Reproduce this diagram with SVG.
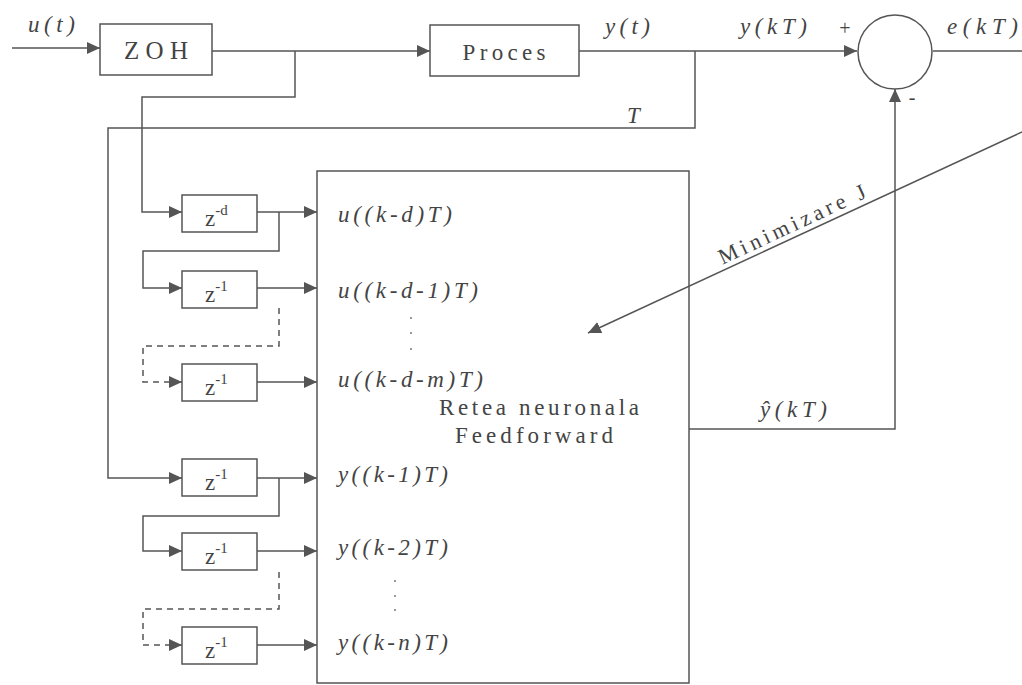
<svg xmlns="http://www.w3.org/2000/svg" width="1022" height="685" viewBox="0 0 1022 685" font-family="'Liberation Serif', 'Times New Roman', serif">
<style>
.box{fill:#fff;stroke:#555;stroke-width:1.5}
.ln{fill:none;stroke:#555;stroke-width:1.5}
.dash{fill:none;stroke:#555;stroke-width:1.5;stroke-dasharray:6 5}
.t{font-family:'Liberation Serif','Times New Roman',serif;fill:#444}
.i{font-family:'Liberation Serif','Times New Roman',serif;font-style:italic;fill:#444}
</style>
<defs>
<marker id="ar" markerUnits="userSpaceOnUse" markerWidth="14" markerHeight="12" refX="13" refY="6" orient="auto">
<path d="M0,0 L13,6 L0,12 Z" fill="#555"/>
</marker>
</defs>
<rect width="1022" height="685" fill="#fff"/>

<g id="zoh">
<rect class="box" x="100" y="24" width="112" height="51"/>
<text class="t" x="156" y="59" font-size="25" text-anchor="middle" textLength="64" lengthAdjust="spacing">ZOH</text>
</g>
<g id="proces">
<rect class="box" x="430" y="25" width="149" height="51"/>
<text class="t" x="504" y="60" font-size="23" text-anchor="middle" textLength="83" lengthAdjust="spacing">Proces</text>
</g>
<g id="sum">
<circle class="box" cx="895" cy="52" r="37"/>
<text class="t" x="845" y="35" font-size="20" text-anchor="middle">+</text>
<text class="t" x="912" y="104" font-size="20" text-anchor="middle">-</text>
</g>
<g id="nn">
<rect class="box" x="317" y="171" width="372" height="512"/>
<text class="t" x="539" y="415" font-size="23" text-anchor="middle" textLength="200" lengthAdjust="spacing">Retea neuronala</text>
<text class="t" x="534" y="443" font-size="23" text-anchor="middle" textLength="158" lengthAdjust="spacing">Feedforward</text>
</g>
<g id="zd">
<rect class="box" x="182" y="195" width="75" height="37"/>
<text class="t" x="205" y="226" font-size="23">z<tspan font-size="15" dy="-11">-d</tspan></text>
</g>
<g id="z1">
<rect class="box" x="182" y="271" width="75" height="37"/>
<text class="t" x="205" y="302" font-size="23">z<tspan font-size="15" dy="-11">-1</tspan></text>
</g>
<g id="z2">
<rect class="box" x="182" y="364" width="75" height="37"/>
<text class="t" x="205" y="395" font-size="23">z<tspan font-size="15" dy="-11">-1</tspan></text>
</g>
<g id="z3">
<rect class="box" x="182" y="459" width="75" height="37"/>
<text class="t" x="205" y="490" font-size="23">z<tspan font-size="15" dy="-11">-1</tspan></text>
</g>
<g id="z4">
<rect class="box" x="182" y="533" width="75" height="37"/>
<text class="t" x="205" y="564" font-size="23">z<tspan font-size="15" dy="-11">-1</tspan></text>
</g>
<g id="z5">
<rect class="box" x="182" y="627" width="75" height="37"/>
<text class="t" x="205" y="658" font-size="23">z<tspan font-size="15" dy="-11">-1</tspan></text>
</g>

<g id="connectors">
<line class="ln" x1="12" y1="48" x2="100" y2="48" marker-end="url(#ar)"/>
<line class="ln" x1="212" y1="51" x2="430" y2="51" marker-end="url(#ar)"/>
<polyline class="ln" points="295,51 295,97 142,97 142,212 182,212" marker-end="url(#ar)"/>
<line class="ln" x1="579" y1="51" x2="857" y2="51" marker-end="url(#ar)"/>
<line class="ln" x1="933" y1="51" x2="1022" y2="51"/>
<polyline class="ln" points="695,51 695,128 108,128 108,478 182,478" marker-end="url(#ar)"/>
<line class="ln" x1="257" y1="212" x2="317" y2="212" marker-end="url(#ar)"/>
<polyline class="ln" points="279,212 279,251 143,251 143,288 182,288" marker-end="url(#ar)"/>
<line class="ln" x1="257" y1="288" x2="317" y2="288" marker-end="url(#ar)"/>
<polyline class="dash" points="279,308 279,346 143,346 143,382 172,382"/>
<line class="ln" x1="172" y1="382" x2="182" y2="382" marker-end="url(#ar)"/>
<line class="ln" x1="257" y1="382" x2="317" y2="382" marker-end="url(#ar)"/>
<line class="ln" x1="257" y1="478" x2="317" y2="478" marker-end="url(#ar)"/>
<polyline class="ln" points="279,478 279,516 143,516 143,551 182,551" marker-end="url(#ar)"/>
<line class="ln" x1="257" y1="551" x2="317" y2="551" marker-end="url(#ar)"/>
<polyline class="dash" points="279,572 279,609 143,609 143,645 172,645"/>
<line class="ln" x1="172" y1="645" x2="182" y2="645" marker-end="url(#ar)"/>
<line class="ln" x1="257" y1="645" x2="317" y2="645" marker-end="url(#ar)"/>
<polyline class="ln" points="689,429 895,429 895,89" marker-end="url(#ar)"/>
<line class="ln" x1="1022" y1="132" x2="588" y2="333" marker-end="url(#ar)"/>
</g>

<g id="labels">
<text class="i" x="28" y="32" font-size="23" textLength="47" lengthAdjust="spacing">u(t)</text>
<text class="i" x="605" y="34" font-size="23" textLength="45" lengthAdjust="spacing">y(t)</text>
<text class="i" x="740" y="34" font-size="23" textLength="67" lengthAdjust="spacing">y(kT)</text>
<text class="i" x="947" y="34" font-size="23" textLength="71" lengthAdjust="spacing">e(kT)</text>
<text class="i" x="627" y="123" font-size="23">T</text>
<text class="i" x="760" y="417" font-size="23" textLength="67" lengthAdjust="spacing">ŷ(kT)</text>
<text class="i" x="338" y="222" font-size="23" textLength="114" lengthAdjust="spacing">u((k-d)T)</text>
<text class="i" x="338" y="298" font-size="23" textLength="140" lengthAdjust="spacing">u((k-d-1)T)</text>
<text class="i" x="338" y="387" font-size="23" textLength="145" lengthAdjust="spacing">u((k-d-m)T)</text>
<text class="i" x="338" y="482" font-size="23" textLength="110" lengthAdjust="spacing">y((k-1)T)</text>
<text class="i" x="338" y="555" font-size="23" textLength="110" lengthAdjust="spacing">y((k-2)T)</text>
<text class="i" x="338" y="650" font-size="23" textLength="110" lengthAdjust="spacing">y((k-n)T)</text>
<g fill="#777">
<circle cx="411" cy="318" r="1"/><circle cx="411" cy="333" r="1"/><circle cx="411" cy="349" r="1"/>
<circle cx="395" cy="581" r="1"/><circle cx="395" cy="596" r="1"/><circle cx="395" cy="610" r="1"/>
</g>
<text class="t" x="795" y="231" font-size="22" text-anchor="middle" textLength="160" lengthAdjust="spacing" transform="rotate(-25 795 231)">Minimizare J</text>
</g>
</svg>
